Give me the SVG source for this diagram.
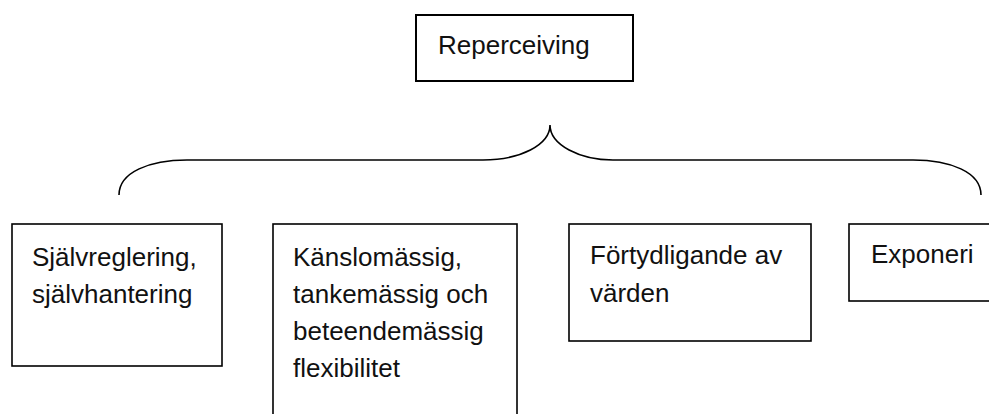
<svg xmlns="http://www.w3.org/2000/svg" width="989" height="414" viewBox="0 0 989 414">
  <style>
    .box { fill: #ffffff; stroke: #000000; stroke-width: 1.6; }
    .top { stroke-width: 2; }
    .label { font-family: "Liberation Sans", Arial, sans-serif; font-size: 26px; fill: #111111; }
    .brace { fill: none; stroke: #000000; stroke-width: 1.6; }
  </style>
  <rect width="989" height="414" fill="#ffffff"/>

  <!-- root concept -->
  <g id="node-reperceiving">
    <rect class="box top" x="416" y="15" width="217" height="66"/>
    <text class="label" x="438" y="54">Reperceiving</text>
  </g>

  <!-- curly brace spanning the four sub-concepts -->
  <g id="connectors">
    <path class="brace" d="M119,195 C119,172 150,160 187,160 L483,160 C520,160 550,145 550,125 C550,145 580,160 613,160 L913,160 C950,160 981,172 981,195"/>
  </g>

  <g id="node-sjalvreglering">
    <rect class="box" x="12" y="224" width="210" height="142"/>
    <text class="label" x="32" y="266">Självreglering,</text>
    <text class="label" x="32" y="303">självhantering</text>
  </g>

  <g id="node-flexibilitet">
    <!-- box runs past the bottom edge of the canvas -->
    <rect class="box" x="273" y="224" width="244" height="200"/>
    <text class="label" x="293" y="266">Känslomässig,</text>
    <text class="label" x="293" y="303">tankemässig och</text>
    <text class="label" x="293" y="340">beteendemässig</text>
    <text class="label" x="293" y="377">flexibilitet</text>
  </g>

  <g id="node-vardena">
    <rect class="box" x="569" y="224" width="242" height="117"/>
    <text class="label" x="590" y="264">Förtydligande av</text>
    <text class="label" x="590" y="302">värden</text>
  </g>

  <g id="node-exponering">
    <!-- box runs past the right edge of the canvas -->
    <rect class="box" x="849" y="224" width="160" height="77"/>
    <text class="label" x="871" y="263">Exponeri</text>
  </g>
</svg>
